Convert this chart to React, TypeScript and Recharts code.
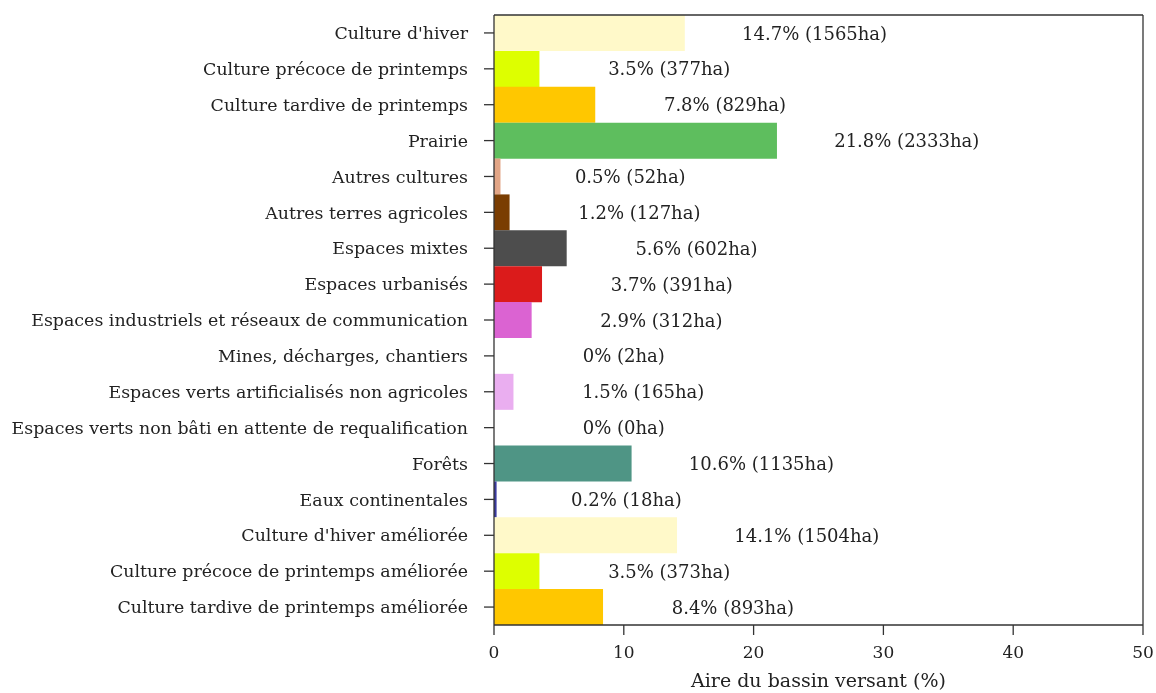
import React from "react";
import { BarChart, Bar, XAxis, YAxis, Cell, LabelList } from "recharts";

const categories = [
  "Culture d'hiver",
  "Culture précoce de printemps",
  "Culture tardive de printemps",
  "Prairie",
  "Autres cultures",
  "Autres terres agricoles",
  "Espaces mixtes",
  "Espaces urbanisés",
  "Espaces industriels et réseaux de communication",
  "Mines, décharges, chantiers",
  "Espaces verts artificialisés non agricoles",
  "Espaces verts non bâti en attente de requalification",
  "Forêts",
  "Eaux continentales",
  "Culture d'hiver améliorée",
  "Culture précoce de printemps améliorée",
  "Culture tardive de printemps améliorée",
];

const percents = [14.7, 3.5, 7.8, 21.8, 0.5, 1.2, 5.6, 3.7, 2.9, 0, 1.5, 0, 10.6, 0.2, 14.1, 3.5, 8.4];
const hectares = [1565, 377, 829, 2333, 52, 127, 602, 391, 312, 2, 165, 0, 1135, 18, 1504, 373, 893];

const colors = [
  "#FFF9C9",
  "#DDFF00",
  "#FFC700",
  "#5EBE5E",
  "#E2A586",
  "#7A3D02",
  "#4D4D4D",
  "#DB1B1B",
  "#DB63D2",
  "#9E9E9E",
  "#EAAEF0",
  "#CCCCCC",
  "#4F9585",
  "#3B3BA0",
  "#FFF9C9",
  "#DDFF00",
  "#FFC700",
];

const xTicks = [0, 10, 20, 30, 40, 50];
const X_MAX = 50;
const LABEL_SHIFT = 10; // labels centred 10 units right of bar end

const data = categories.map((name, i) => ({
  name,
  value: percents[i],
  shift: LABEL_SHIFT,
  label: `${percents[i]}% (${hectares[i]}ha)`,
}));

const W = 1148;
const H = 685;
const MARGIN = { top: 6, right: 12, bottom: 0, left: 0 };
const Y_AXIS_W = 486;

const FONT = "'DejaVu Serif', serif";
const TEXT_COLOR = "#222";
const AXIS_COLOR = "#333";

const ValueLabel = (props: any) => {
  const { x, y, width, height, value } = props;
  const cx = Number(x) + Number(width);
  const cy = Number(y) + Number(height) / 2;
  return (
    <text
      x={cx}
      y={cy}
      textAnchor="middle"
      dominantBaseline="central"
      fontFamily={FONT}
      fontSize={18}
      fill={TEXT_COLOR}
    >
      {value}
    </text>
  );
};

export default function App() {
  return (
    <div style={{ position: "fixed", left: 8, top: 8 }}>
      <BarChart
        width={W}
        height={H}
        data={data}
        layout="vertical"
        margin={MARGIN}
        barCategoryGap={0}
      >
        <XAxis
          type="number"
          domain={[0, X_MAX]}
          ticks={xTicks}
          allowDataOverflow
          tickSize={10}
          tickMargin={11}
          height={68}
          stroke={AXIS_COLOR}
          strokeWidth={1.3}
          tick={{ fill: TEXT_COLOR, fontFamily: FONT, fontSize: 17 }}
          label={{
            value: "Aire du bassin versant (%)",
            position: "insideBottom",
            offset: 6,
            fill: TEXT_COLOR,
            fontFamily: FONT,
            fontSize: 19,
          }}
        />
        <XAxis
          xAxisId="top"
          orientation="top"
          type="number"
          domain={[0, X_MAX]}
          height={1}
          tick={false}
          tickLine={false}
          stroke={AXIS_COLOR}
          strokeWidth={1.3}
        />
        <YAxis
          type="category"
          dataKey="name"
          width={Y_AXIS_W}
          tickSize={10}
          tickMargin={16}
          interval={0}
          stroke={AXIS_COLOR}
          strokeWidth={1.3}
          tick={{ fill: TEXT_COLOR, fontFamily: FONT, fontSize: 17.4 }}
        />
        <YAxis
          yAxisId="right"
          orientation="right"
          type="category"
          dataKey="name"
          width={1}
          tick={false}
          tickLine={false}
          stroke={AXIS_COLOR}
          strokeWidth={1.3}
        />
        <Bar dataKey="value" stackId="s" isAnimationActive={false}>
          {data.map((d, i) => (
            <Cell key={d.name} fill={colors[i]} />
          ))}
        </Bar>
        <Bar
          dataKey="shift"
          stackId="s"
          fill="transparent"
          fillOpacity={0}
          isAnimationActive={false}
        >
          <LabelList dataKey="label" content={<ValueLabel />} />
        </Bar>
      </BarChart>
    </div>
  );
}
